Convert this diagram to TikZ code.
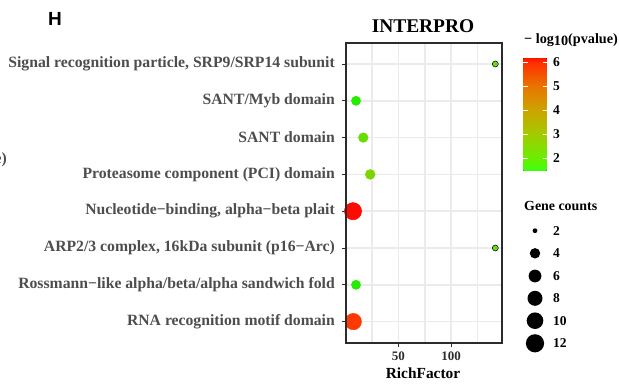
\documentclass[tikz,border=0pt]{standalone}
\usepackage{fontspec}
\setmainfont{Liberation Serif}
\newfontfamily\panelfont{Liberation Sans}
\usepackage{xcolor}
\usepackage{tikz}
\definecolor{axisgray}{HTML}{2B2B2B}
\definecolor{labgray}{HTML}{4D4D4D}
\definecolor{gridgray}{HTML}{EBEBEB}
\definecolor{pv0}{HTML}{3CFF10}
\definecolor{pv2}{HTML}{6AEE00}
\definecolor{pv3}{HTML}{A3CB00}
\definecolor{pv4}{HTML}{CBA400}
\definecolor{pv5}{HTML}{E97500}
\definecolor{pv6}{HTML}{FF2E00}
\definecolor{pv7}{HTML}{FF1400}
\pgfdeclareverticalshading{pvbar}{100bp}{color(0bp)=(pv0); color(25bp)=(pv0);
  color(30.5bp)=(pv2); color(41.2bp)=(pv3); color(51.9bp)=(pv4);
  color(62.5bp)=(pv5); color(73.2bp)=(pv6); color(75bp)=(pv7); color(100bp)=(pv7)}
\tikzset{
  panelframe/.style={draw=axisgray, line width=2pt},
  gridline/.style={draw=gridgray, line width=1.6pt},
  axtick/.style={draw=axisgray, line width=1pt},
  ylab/.style={text=labgray, font=\bfseries\fontsize{15.7}{17}\selectfont, anchor=east, inner sep=0pt},
  xnum/.style={text=axisgray, font=\bfseries\fontsize{13}{14}\selectfont, inner sep=0pt},
  ttl/.style={font=\bfseries\fontsize{19.4}{21}\selectfont, inner sep=0pt},
  legttl/.style={font=\bfseries\fontsize{13.9}{15}\selectfont, anchor=west, inner sep=0pt},
  legnum/.style={font=\bfseries\fontsize{13.5}{15}\selectfont, anchor=west, inner sep=0pt},
  dot/.style={circle, inner sep=0pt, line width=0.5pt},
  sizedot/.style={circle, inner sep=0pt, fill=black},
  panellab/.style={font=\panelfont\bfseries\fontsize{19}{21}\selectfont, inner sep=0pt},
}

\begin{document}
\begin{tikzpicture}[x=1pt, y=-1pt]
  \useasboundingbox (0,0) rectangle (619,388);

  \node[panellab] (tag) at (55,19) {H};
  \node[ylab] (cut) at (7,160) {e)};

  % panel grid
  \foreach \x in {372,398.3,424.7,451,477.4}
    \draw[gridline] (\x,42.7) -- (\x,342.7);
  \foreach \y in {64,100.8,137.6,174.4,211.2,248,284.8,321.6}
    \draw[gridline] (345.6,\y) -- (502,\y);

  \node[ttl] (title) at (423,26) {INTERPRO};

  % terms, left to right: y / label
  \foreach \i/\y/\t in {1/64/{Signal recognition particle, SRP9/SRP14 subunit},
      2/100.8/{SANT/Myb domain},
      3/137.6/{SANT domain},
      4/174.4/{Proteasome component (PCI) domain},
      5/211.2/{Nucleotide−binding, alpha−beta plait},
      6/248/{ARP2/3 complex, 16kDa subunit (p16−Arc)},
      7/284.8/{Rossmann−like alpha/beta/alpha sandwich fold},
      8/321.6/{RNA recognition motif domain}} {
    \node[ylab] (lab\i) at (335,\y) {\t};
    \draw[axtick] (341.5,\y) -- (345.6,\y);
  }

  % points
  \foreach \i/\x/\y/\r/\c/\d in {1/495.3/64/3/66DD11/black,
      2/356/100.8/4.6/22EE00/dotfill,
      3/363.3/137.6/4.8/66DD00/dotfill,
      4/370.2/174.4/4.9/7CD400/dotfill,
      5/353/211.2/8.6/FF0A00/dotfill,
      6/495.3/248/3/66DD11/black,
      7/356/284.8/4.6/22EE00/dotfill,
      8/353.3/321.6/8.2/FF3A00/dotfill} {
    \definecolor{dotfill}{HTML}{\c}
    \node[dot, fill=dotfill, draw=\d, minimum size=2*\r pt] (pt\i) at (\x,\y) {};
  }

  \draw[panelframe] (345.6,42.7) rectangle (502,342.7);
  \foreach \x/\v in {398.3/50,451/100} {
    \draw[axtick] (\x,342.7) -- (\x,346.8);
    \node[xnum] (num\v) at (\x,356) {\v};
  }
  \node[ttl, font=\bfseries\fontsize{15.4}{17}\selectfont] (xname) at (423,373) {RichFactor};

  % colour bar
  \node[legttl, font=\bfseries\fontsize{14.2}{16}\selectfont] (pvname) at (524,40) {− log\raisebox{-0.3ex}{10}(pvalue)};
  \fill[shading=pvbar] (523.3,58.3) rectangle (546.7,170.7);
  \foreach \v/\y in {6/62.3,5/86.3,4/110.3,3/134.3,2/158.3} {
    \draw[white, line width=0.6pt] (523.3,\y) -- (527.5,\y) (542.5,\y) -- (546.7,\y);
    \node[legnum] (pv\v) at (553,\y) {\v};
  }

  % size legend
  \node[legttl] (cntname) at (524,206) {Gene counts};
  \foreach \n/\y/\r in {2/230.7/2.4,4/253.3/5.2,6/276/6.4,8/298.3/7.5,10/320.7/8.3,12/343.3/9.1} {
    \node[sizedot, minimum size=2*\r pt] (sz\n) at (535,\y) {};
    \node[legnum] (szlab\n) at (553,\y) {\n};
  }
\end{tikzpicture}
\end{document}
